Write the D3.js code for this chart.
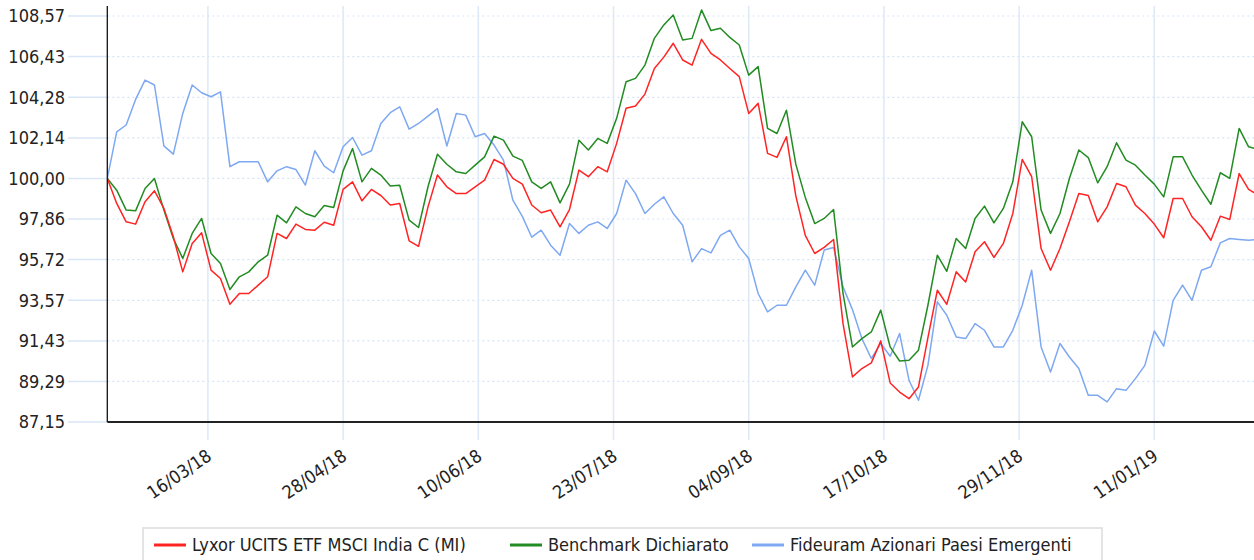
<!DOCTYPE html>
<html>
<head>
<meta charset="utf-8">
<script src="https://cdn.jsdelivr.net/npm/d3@7"></script>
<style>
  html, body { margin: 0; padding: 0; background: #fff; }
  svg text { font-family: "DejaVu Sans Condensed", "DejaVu Sans", sans-serif; font-stretch: condensed; fill: #222; }
</style>
</head>
<body>
<svg id="chart"></svg>
<script>
// 1: DATA (one point every 3 days from 12/02/18)
const startDate = "12/02/18";
const stepDays = 3;

const lyxor = [
  100.0, 98.68, 97.71, 97.59, 98.77, 99.35, 98.42, 96.92, 95.07, 96.57,
  97.13, 95.16, 94.72, 93.36, 93.93, 93.93, 94.37, 94.81, 97.1, 96.83,
  97.59, 97.31, 97.27, 97.69, 97.53, 99.42, 99.82, 98.82, 99.42, 99.1,
  98.6, 98.68, 96.71, 96.42, 98.5, 100.18, 99.56, 99.2, 99.2, 99.56,
  99.91, 101.0, 100.75, 100.0, 99.7, 98.6, 98.19, 98.33, 97.45, 98.36,
  100.44, 100.09, 100.62, 100.35, 101.85, 103.7, 103.82, 104.45, 105.8, 106.4,
  107.13, 106.25, 105.98, 107.34, 106.6, 106.25, 105.8, 105.37, 103.43, 103.96,
  101.32, 101.11, 102.2, 99.07, 97.0, 96.04, 96.36, 96.78, 92.34, 89.53,
  89.97, 90.27, 91.43, 89.21, 88.73, 88.38, 89.0, 91.6, 94.1, 93.36,
  95.07, 94.54, 96.13, 96.66, 95.83, 96.57, 98.15, 101.0, 100.09, 96.3,
  95.16, 96.3, 97.71, 99.2, 99.1, 97.71, 98.5, 99.73, 99.56, 98.59,
  98.15, 97.59, 96.87, 98.94, 98.94, 97.98, 97.45, 96.74, 98.01, 97.83,
  100.26, 99.42, 99.12
];

const benchmark = [
  100.0, 99.38, 98.33, 98.29, 99.47, 100.0, 98.33, 96.83, 95.78, 97.1,
  97.89, 96.04, 95.51, 94.14, 94.81, 95.07, 95.6, 95.95, 98.06, 97.66,
  98.5, 98.15, 97.98, 98.57, 98.47, 100.4, 101.58, 99.82, 100.53, 100.18,
  99.6, 99.64, 97.8, 97.41, 99.56, 101.28, 100.75, 100.35, 100.26, 100.7,
  101.14, 102.23, 102.02, 101.18, 100.95, 99.82, 99.47, 99.82, 98.71, 99.7,
  102.02, 101.5, 102.11, 101.85, 103.17, 105.1, 105.28, 105.98, 107.39, 108.1,
  108.62, 107.3, 107.39, 108.89, 107.8, 107.92, 107.44, 107.04, 105.45, 105.9,
  102.64, 102.37, 103.6, 100.74, 99.0, 97.62, 97.89, 98.36, 93.93, 91.11,
  91.55, 91.9, 93.05, 91.11, 90.37, 90.41, 90.94, 93.31, 95.95, 95.1,
  96.83, 96.3, 97.89, 98.54, 97.66, 98.42, 99.82, 102.99, 102.2, 98.33,
  97.1, 98.15, 100.0, 101.5, 101.1, 99.77, 100.62, 101.88, 100.97, 100.7,
  100.18, 99.7, 99.03, 101.14, 101.14, 100.18, 99.38, 98.64, 100.3, 100.0,
  102.64, 101.67, 101.53
];

const fideuram = [
  100.0, 102.46, 102.82, 104.17, 105.19, 104.93, 101.72, 101.28, 103.43, 104.93,
  104.52, 104.31, 104.57, 100.62, 100.88, 100.88, 100.88, 99.82, 100.4, 100.62,
  100.47, 99.65, 101.46, 100.65, 100.3, 101.67, 102.16, 101.23, 101.46, 102.9,
  103.47, 103.78, 102.6, 102.9, 103.29, 103.68, 101.71, 103.43, 103.34, 102.2,
  102.37, 101.76, 100.97, 98.85, 98.0, 96.9, 97.27, 96.48, 95.95, 97.62,
  97.1, 97.53, 97.71, 97.36, 98.15, 99.91, 99.2, 98.15, 98.64, 99.03,
  98.15, 97.53, 95.6, 96.3, 96.07, 97.0, 97.27, 96.39, 95.78, 93.93,
  92.96, 93.31, 93.31, 94.28, 95.16, 94.37, 96.22, 96.36, 94.28, 93.08,
  91.55, 90.5, 91.29, 90.62, 91.82, 89.35, 88.3, 90.14, 93.49, 92.78,
  91.64, 91.55, 92.34, 91.99, 91.11, 91.11, 91.99, 93.31, 95.16, 91.11,
  89.79, 91.29, 90.58, 89.97, 88.56, 88.56, 88.21, 88.91, 88.82, 89.44,
  90.14, 91.95, 91.15, 93.57, 94.37, 93.57, 95.16, 95.34, 96.6, 96.83,
  96.78, 96.74, 96.78
];

const seriesNames = ["Lyxor UCITS ETF MSCI India C (MI)", "Benchmark Dichiarato", "Fideuram Azionari Paesi Emergenti"];
const seriesColors = ["#ff2424", "#228b22", "#7ea8f2"];

const yTicks = [87.15, 89.29, 91.43, 93.57, 95.72, 97.86, 100.00, 102.14, 104.28, 106.43, 108.57];
const xTickLabels = ["16/03/18", "28/04/18", "10/06/18", "23/07/18", "04/09/18", "17/10/18", "29/11/18", "11/01/19"];
const xDomain = ["12/02/18", "12/02/19"];

// 2: SETUP
const W = 1254, H = 560;
const plot = { left: 107.3, right: 1254.9, top: 6, bottom: 422 };

const parse = d3.timeParse("%d/%m/%y");
const t0 = parse(startDate);
const dates = lyxor.map((d, i) => d3.timeDay.offset(t0, i * stepDays));

const svg = d3.select("#chart")
    .attr("width", W)
    .attr("height", H);

svg.append("rect").attr("width", W).attr("height", H).attr("fill", "#fff");

// 3: SCALES
const xScale = d3.scaleTime()
    .domain(xDomain.map(parse))
    .range([plot.left, plot.right]);

const yScale = d3.scaleLinear()
    .domain([87.15, 108.57])
    .range([plot.bottom, 16]);

const fmt = v => d3.format(".2f")(v).replace(".", ",");

// 4: GRID
svg.append("g")
    .selectAll("line")
    .data(yTicks)
    .enter()
    .append("line")
    .attr("x1", 68).attr("x2", plot.left)
    .attr("y1", d => yScale(d)).attr("y2", d => yScale(d))
    .attr("stroke", "#d9e6f7")
    .attr("stroke-width", 1.5);

svg.append("g")
    .selectAll("line")
    .data(yTicks)
    .enter()
    .append("line")
    .attr("x1", plot.left).attr("x2", W)
    .attr("y1", d => yScale(d)).attr("y2", d => yScale(d))
    .attr("stroke", "#d6e3f5")
    .attr("stroke-width", 1.2)
    .attr("stroke-dasharray", "2,3");

svg.append("g")
    .selectAll("line")
    .data(xTickLabels)
    .enter()
    .append("line")
    .attr("x1", d => xScale(parse(d))).attr("x2", d => xScale(parse(d)))
    .attr("y1", plot.top).attr("y2", 440)
    .attr("stroke", "#dde8f8")
    .attr("stroke-width", 1.5);

// 5: LINES
svg.append("clipPath").attr("id", "clip")
    .append("rect")
    .attr("x", plot.left).attr("y", 0)
    .attr("width", W - plot.left).attr("height", plot.bottom);

const line = d3.line()
    .x((d, i) => xScale(dates[i]))
    .y(d => yScale(d));

const allSeries = [fideuram, benchmark, lyxor];
const allColors = [seriesColors[2], seriesColors[1], seriesColors[0]];

svg.append("g")
    .attr("clip-path", "url(#clip)")
    .selectAll("path")
    .data(allSeries)
    .enter()
    .append("path")
    .attr("fill", "none")
    .attr("stroke", (d, i) => allColors[i])
    .attr("stroke-width", 1.5)
    .attr("stroke-linejoin", "round")
    .attr("d", line);

// 6: AXES
svg.append("line")
    .attr("x1", plot.left).attr("x2", plot.left)
    .attr("y1", plot.top).attr("y2", plot.bottom)
    .attr("stroke", "#111").attr("stroke-width", 1.3);

svg.append("line")
    .attr("x1", plot.left).attr("x2", W)
    .attr("y1", plot.bottom).attr("y2", plot.bottom)
    .attr("stroke", "#222").attr("stroke-width", 1.8);

svg.append("g")
    .selectAll("text")
    .data(yTicks)
    .enter()
    .append("text")
    .attr("x", 65)
    .attr("y", d => yScale(d))
    .attr("dy", "0.36em")
    .attr("text-anchor", "end")
    .style("font-size", "18px")
    .text(d => fmt(d));

svg.append("g")
    .selectAll("text")
    .data(xTickLabels)
    .enter()
    .append("text")
    .attr("transform", d => `translate(${xScale(parse(d)) + 5},459) rotate(-34)`)
    .attr("text-anchor", "end")
    .style("font-size", "18px")
    .text(d => d);

// 7: LEGEND
svg.append("rect")
    .attr("x", 143).attr("y", 528)
    .attr("width", 959).attr("height", 40)
    .attr("fill", "#fff")
    .attr("stroke", "#dcdcdc")
    .attr("stroke-width", 1.5);

const legendX = [154, 510, 752];
const legend = svg.append("g")
    .selectAll("g")
    .data(seriesNames)
    .enter()
    .append("g")
    .attr("transform", (d, i) => `translate(${legendX[i]},545)`);

legend.append("line")
    .attr("x1", 0).attr("x2", 32)
    .attr("stroke", (d, i) => seriesColors[i])
    .attr("stroke-width", 3);

legend.append("text")
    .attr("x", 38)
    .attr("dy", "0.36em")
    .style("font-size", "18px")
    .text(d => d);
</script>
</body>
</html>
